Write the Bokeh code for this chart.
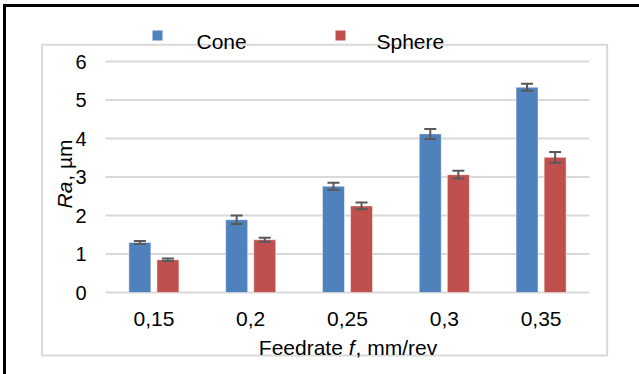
import math
from bokeh.plotting import figure
from bokeh.models import (ColumnDataSource, Range1d, Whisker, TeeHead, Label)
from bokeh.core.properties import value
from bokeh.embed import file_html
from bokeh.resources import INLINE

# ---- data ----
feedrates = ["0,15", "0,2", "0,25", "0,3", "0,35"]
cone = [1.30, 1.89, 2.76, 4.12, 5.33]
cone_err = [0.04, 0.11, 0.09, 0.13, 0.09]
sphere = [0.85, 1.37, 2.25, 3.06, 3.51]
sphere_err = [0.03, 0.05, 0.09, 0.10, 0.14]
series = ["Cone", "Sphere"]
colors = ["#4F81BD", "#C0504D"]
y_ticks = [0, 1, 2, 3, 4, 5, 6]

W, H = 639, 374
FL, FR, FT, FB = 105, 589, 61, 292   # plot area edges in canvas px
FONT = "Liberation Sans"
n = len(feedrates)
ymax = y_ticks[-1]

xs = (FR - FL) / n          # px per category
ys = (FB - FT) / ymax       # px per unit
def dx(cx):
    return (cx - FL) / xs
def dy(cy):
    return (FB - cy) / ys

p = figure(width=W, height=H, x_range=Range1d(dx(0), dx(W)), y_range=Range1d(dy(H), dy(0)),
           output_backend="svg", toolbar_location=None, min_border=0,
           x_axis_location=None, y_axis_location=None)
p.outline_line_color = None
p.background_fill_color = "white"
p.border_fill_color = "white"
p.xgrid.visible = False
p.ygrid.visible = False

# outer black border (left and top visible) and inner light frame
p.segment(x0=[dx(4), dx(2.5)], y0=[dy(H + 5), dy(5)], x1=[dx(4), dx(W + 5)], y1=[dy(5), dy(5)],
          line_color="black", line_width=3)
p.quad(left=dx(41.5), right=dx(606.7), top=dy(44.3), bottom=dy(355),
       fill_alpha=0, line_color="#D9D9D9", line_width=2)

centers = [i + 0.5 for i in range(n)]
off = 0.145
bw = 0.227
src = ColumnDataSource(dict(
    xc=[c - off for c in centers], xs_=[c + off for c in centers],
    cone=cone, sphere=sphere,
    cone_up=[v + e for v, e in zip(cone, cone_err)],
    cone_lo=[v - e for v, e in zip(cone, cone_err)],
    sph_up=[v + e for v, e in zip(sphere, sphere_err)],
    sph_lo=[v - e for v, e in zip(sphere, sphere_err)],
))

# gridlines
p.segment(x0=0, x1=n, y0=y_ticks, y1=y_ticks, line_color="#D9D9D9", line_width=2)

for xk, key, c in [("xc", "cone", colors[0]), ("xs_", "sphere", colors[1])]:
    p.vbar(x=xk, top=key, width=bw, source=src,
           fill_color=c, line_color="white", line_alpha=0.45, line_width=1)

for xk, up, lo in [("xc", "cone_up", "cone_lo"), ("xs_", "sph_up", "sph_lo")]:
    w = Whisker(source=src, base=xk, upper=up, lower=lo,
                line_color="#595959", line_width=2, level="annotation",
                upper_head=TeeHead(size=12, line_color="#595959", line_width=2),
                lower_head=TeeHead(size=12, line_color="#595959", line_width=2))
    p.add_layout(w)

# tick labels
p.text(x=dx(86), y=y_ticks, text=[str(t) for t in y_ticks], text_font=value(FONT),
       text_font_size="20px", text_align="right", text_baseline="middle", text_color="black")
p.text(x=centers, y=dy(318), text=feedrates, text_font=value(FONT),
       text_font_size="21px", text_align="center", text_baseline="middle", text_color="black")

# legend
for (l, r, t, b), c, name, tx in [((152, 162, 30, 40), colors[0], series[0], 196),
                                 ((335, 345, 30, 40), colors[1], series[1], 376)]:
    p.quad(left=dx(l), right=dx(r), top=dy(t), bottom=dy(b),
           fill_color=c, line_color=None)
    p.add_layout(Label(x=dx(tx), y=dy(41), text=name, text_font=FONT,
                       text_font_size="21px", text_baseline="alphabetic",
                       text_align="left", text_color="black"))

# x axis title with italic f
fs = 21
parts = [("Feedrate ", "normal", 4280), ("f", "italic", 278), (", mm/rev", "normal", 3889)]
total = sum(w for _, _, w in parts) * fs / 1000
cx = 347 - total / 2
for t, st, w in parts:
    p.add_layout(Label(x=dx(cx), y=dy(347), text=t, text_font=FONT, text_font_size=f"{fs}px",
                       text_font_style=st, text_baseline="alphabetic", text_align="left",
                       text_color="black"))
    cx += w * fs / 1000 + (1 if st == "italic" else 0)

# y axis title with italic Ra, rotated
cy = 208
for t, st, w in [("Ra", "italic", 1278), (", µm", "normal", 1965)]:
    p.add_layout(Label(x=dx(64), y=dy(cy), text=t, text_font=FONT, text_font_size=f"{fs}px",
                       text_font_style=st, text_baseline="alphabetic", text_align="left",
                       angle=math.pi / 2, text_color="black"))
    cy -= w * fs / 1000 + 1

open("out.html", "w").write(file_html(p, INLINE))
